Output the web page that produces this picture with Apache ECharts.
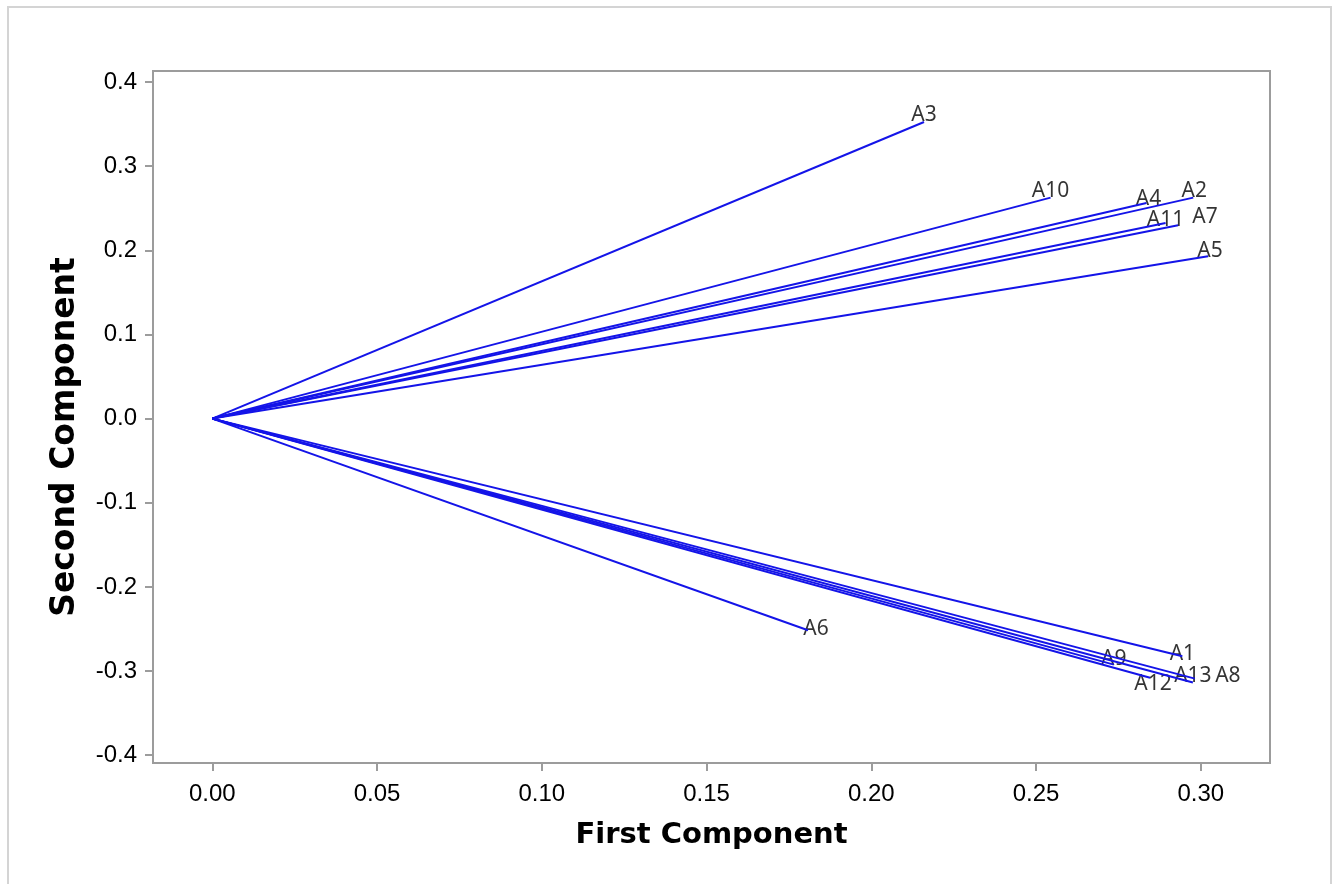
<!DOCTYPE html>
<html>
<head>
<meta charset="utf-8">
<title>Loading Plot</title>
<script src="https://cdn.jsdelivr.net/npm/echarts@6/dist/echarts.min.js"></script>
<style>
  html, body { margin: 0; padding: 0; background: #fff; }
  #chart { width: 1338px; height: 884px; }
</style>
</head>
<body>
<div id="chart"></div>
<script>
// loadings
const names = ['A1', 'A2', 'A3', 'A4', 'A5', 'A6', 'A7', 'A8', 'A9', 'A10', 'A11', 'A12', 'A13']
const firstComp = [0.2944, 0.2977, 0.2160, 0.2835, 0.3022, 0.1808, 0.2931, 0.2976, 0.2736, 0.2544, 0.2893, 0.2846, 0.2982]
const secondComp = [-0.2825, 0.2626, 0.3525, 0.2562, 0.1929, -0.2516, 0.2297, -0.3137, -0.2924, 0.2626, 0.2324, -0.3079, -0.3090]
const xTicks = [0, 0.05, 0.10, 0.15, 0.20, 0.25, 0.30]
const yTicks = [-0.4, -0.3, -0.2, -0.1, 0, 0.1, 0.2, 0.3, 0.4]

// label nudges in px (dx, dy) so the labels sit like in the original
const labelNudge = {
  A1: [0, 5], A2: [1, 1], A3: [0, 1], A4: [2, 3], A5: [2, 2], A6: [8, 6], A7: [27, -1],
  A8: [35, 1], A9: [0, 2], A10: [0, 1], A11: [0, 4], A12: [3, 14], A13: [-2, 5]
}

const chart = echarts.init(document.getElementById('chart'))
const frameColor = '#9c9c9c'
const lineColor = '#1414e8'

const lineSeries = names.map((n, i) => ({
  name: n,
  type: 'line',
  silent: true,
  symbol: 'none',
  lineStyle: { color: lineColor, width: 2 },
  data: [[0, 0], [firstComp[i], secondComp[i]]]
}))

const labelSeries = {
  type: 'scatter',
  silent: true,
  symbolSize: 0,
  label: {
    show: true,
    position: 'top',
    distance: 0,
    formatter: p => p.name,
    fontFamily: 'Noto Sans',
    fontSize: 21,
    color: '#000'
  },
  data: names.map((n, i) => ({
    name: n,
    value: [firstComp[i], secondComp[i]],
    label: { offset: [labelNudge[n][0], labelNudge[n][1] + 3] }
  }))
}

const option = {
  animation: false,
  backgroundColor: '#fff',
  graphic: [{
    type: 'rect',
    silent: true,
    shape: { x: 8, y: 7, width: 1323, height: 900 },
    style: { fill: 'none', stroke: '#d4d4d4', lineWidth: 2 }
  }],
  grid: {
    left: 153, right: 68, top: 71, bottom: 121,
    show: true, borderColor: frameColor, borderWidth: 2
  },
  xAxis: {
    type: 'value',
    min: -0.018,
    max: 0.321,
    name: 'First Component',
    nameLocation: 'middle',
    nameGap: 58,
    nameTextStyle: { fontFamily: 'DejaVu Sans', fontWeight: 'bold', fontSize: 29, color: '#000' },
    axisLine: { show: true, onZero: false, lineStyle: { color: frameColor, width: 2 } },
    axisTick: { show: true, inside: false, length: 8, lineStyle: { color: frameColor, width: 2 }, customValues: xTicks },
    axisLabel: {
      customValues: xTicks,
      margin: 19,
      fontFamily: 'Liberation Sans',
      fontSize: 24,
      color: '#000',
      formatter: v => v.toFixed(2)
    },
    splitLine: { show: false }
  },
  yAxis: {
    type: 'value',
    min: -0.4093,
    max: 0.4131,
    name: 'Second Component',
    nameLocation: 'middle',
    nameGap: 71,
    nameTextStyle: {
      fontFamily: 'DejaVu Sans', fontWeight: 'bold', fontSize: 33, color: '#000',
      padding: [0, 40, 0, 0]
    },
    axisLine: { show: true, onZero: false, lineStyle: { color: frameColor, width: 2 } },
    axisTick: { show: true, inside: false, length: 8, lineStyle: { color: frameColor, width: 2 }, customValues: yTicks },
    axisLabel: {
      customValues: yTicks,
      margin: 16,
      fontFamily: 'Liberation Sans',
      fontSize: 24,
      color: '#000',
      formatter: v => v.toFixed(1)
    },
    splitLine: { show: false }
  },
  series: [...lineSeries, labelSeries]
}

chart.setOption(option)
</script>
</body>
</html>
